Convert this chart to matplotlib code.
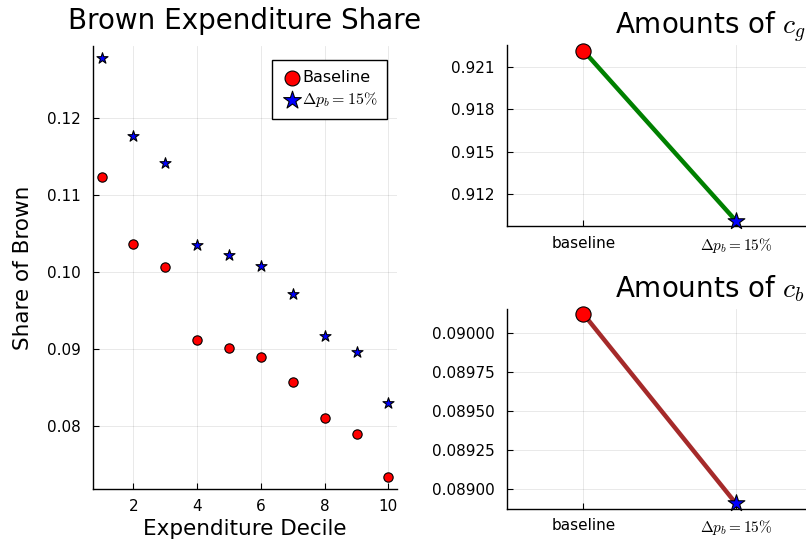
import matplotlib
matplotlib.use("Agg")
import matplotlib.pyplot as plt
import numpy as np

plt.rcParams['font.family'] = ['DejaVu Sans']
plt.rcParams['mathtext.fontset'] = 'cm'

# left panel: share of brown by expenditure decile
deciles = [1, 2, 3, 4, 5, 6, 7, 8, 9, 10]
share_baseline = [0.1124, 0.1036, 0.1006, 0.0912, 0.0901, 0.0889, 0.0857, 0.0810, 0.0790, 0.0734]
share_shock = [0.1278, 0.1177, 0.1142, 0.1035, 0.1022, 0.1008, 0.0972, 0.0917, 0.0896, 0.0830]

# right panels: amounts of c_g and c_b
scenarios = ['baseline', r'$\Delta p_b = 15\%$']
amount_cg = [0.92213, 0.91014]
amount_cb = [0.090119, 0.088911]

shock_label = r'$\Delta p_b = 15\%$'
grid_kw = dict(color='black', alpha=0.1, linewidth=0.6)


def style_axes(ax):
    for s in ['top', 'right']:
        ax.spines[s].set_visible(False)
    for s in ['left', 'bottom']:
        ax.spines[s].set_linewidth(1.0)
    ax.tick_params(direction='in', length=4, width=0.8, labelsize=11, pad=9)
    ax.grid(True, **grid_kw)
    ax.set_axisbelow(True)


fig = plt.figure(figsize=(8.06, 5.46), dpi=100)

# ---- left panel
ax1 = fig.add_axes([0.1154, 0.1044, 0.3772, 0.8114])
style_axes(ax1)
ax1.scatter(deciles, share_baseline, s=45, marker='o', color='red',
            edgecolor='black', linewidth=0.8, label='Baseline', zorder=3)
ax1.scatter(deciles, share_shock, s=70, marker='*', color='blue',
            edgecolor='black', linewidth=0.8, label=shock_label, zorder=3)
ax1.set_xlim(0.73, 10.27)
ax1.set_ylim(0.0718, 0.1294)
ax1.set_xticks([2, 4, 6, 8, 10])
ax1.set_yticks([0.08, 0.09, 0.10, 0.11, 0.12])
ax1.set_yticklabels(['0.08', '0.09', '0.10', '0.11', '0.12'])
ax1.tick_params(axis='x', pad=7)
ax1.set_title('Brown Expenditure Share', fontsize=20, pad=12)
ax1.set_xlabel('Expenditure Decile', fontsize=15.5, labelpad=4)
ax1.set_ylabel('Share of Brown', fontsize=15.5, labelpad=10)
leg = ax1.legend(loc='upper right', bbox_to_anchor=(0.967, 0.968), borderaxespad=0,
                 fontsize=11.5, fancybox=False, framealpha=1, edgecolor='black',
                 handletextpad=0.05, borderpad=0.6, handlelength=1.2, labelspacing=0.35,
                 markerscale=1.6)
leg.get_frame().set_linewidth(1.0)

# ---- right panels
xpos = np.array([0.5, 1.5])


def amount_panel(rect, values, color, ylim, yticks, fmt, title):
    ax = fig.add_axes(rect)
    style_axes(ax)
    ax.plot(xpos, values, color=color, linewidth=3.2, zorder=2)
    ax.scatter(xpos[:1], values[:1], s=120, marker='o', color='red',
               edgecolor='black', linewidth=0.8, zorder=3, clip_on=False)
    ax.scatter(xpos[1:], values[1:], s=160, marker='*', color='blue',
               edgecolor='black', linewidth=0.8, zorder=3, clip_on=False)
    ax.set_xlim(0, 2)
    ax.set_ylim(*ylim)
    ax.set_xticks(xpos)
    ax.set_xticklabels(scenarios)
    ax.tick_params(axis='x', pad=7)
    ax.set_yticks(yticks)
    ax.set_yticklabels([fmt.format(v) for v in yticks])
    ax.text(0.354, 1.06, title, transform=ax.transAxes, fontsize=20,
            ha='left', va='baseline')
    return ax


amount_panel([0.6294, 0.5861, 0.3779, 0.3315], amount_cg, '#008000',
             (0.90976, 0.92253), [0.912, 0.915, 0.918, 0.921], '{:.3f}',
             r'Amounts of $c_g$')
amount_panel([0.6294, 0.0683, 0.3779, 0.3652], amount_cb, '#A52A2A',
             (0.088876, 0.090149), [0.08900, 0.08925, 0.08950, 0.08975, 0.09000],
             '{:.5f}', r'Amounts of $c_b$')

fig.savefig('out.png', dpi=100)
